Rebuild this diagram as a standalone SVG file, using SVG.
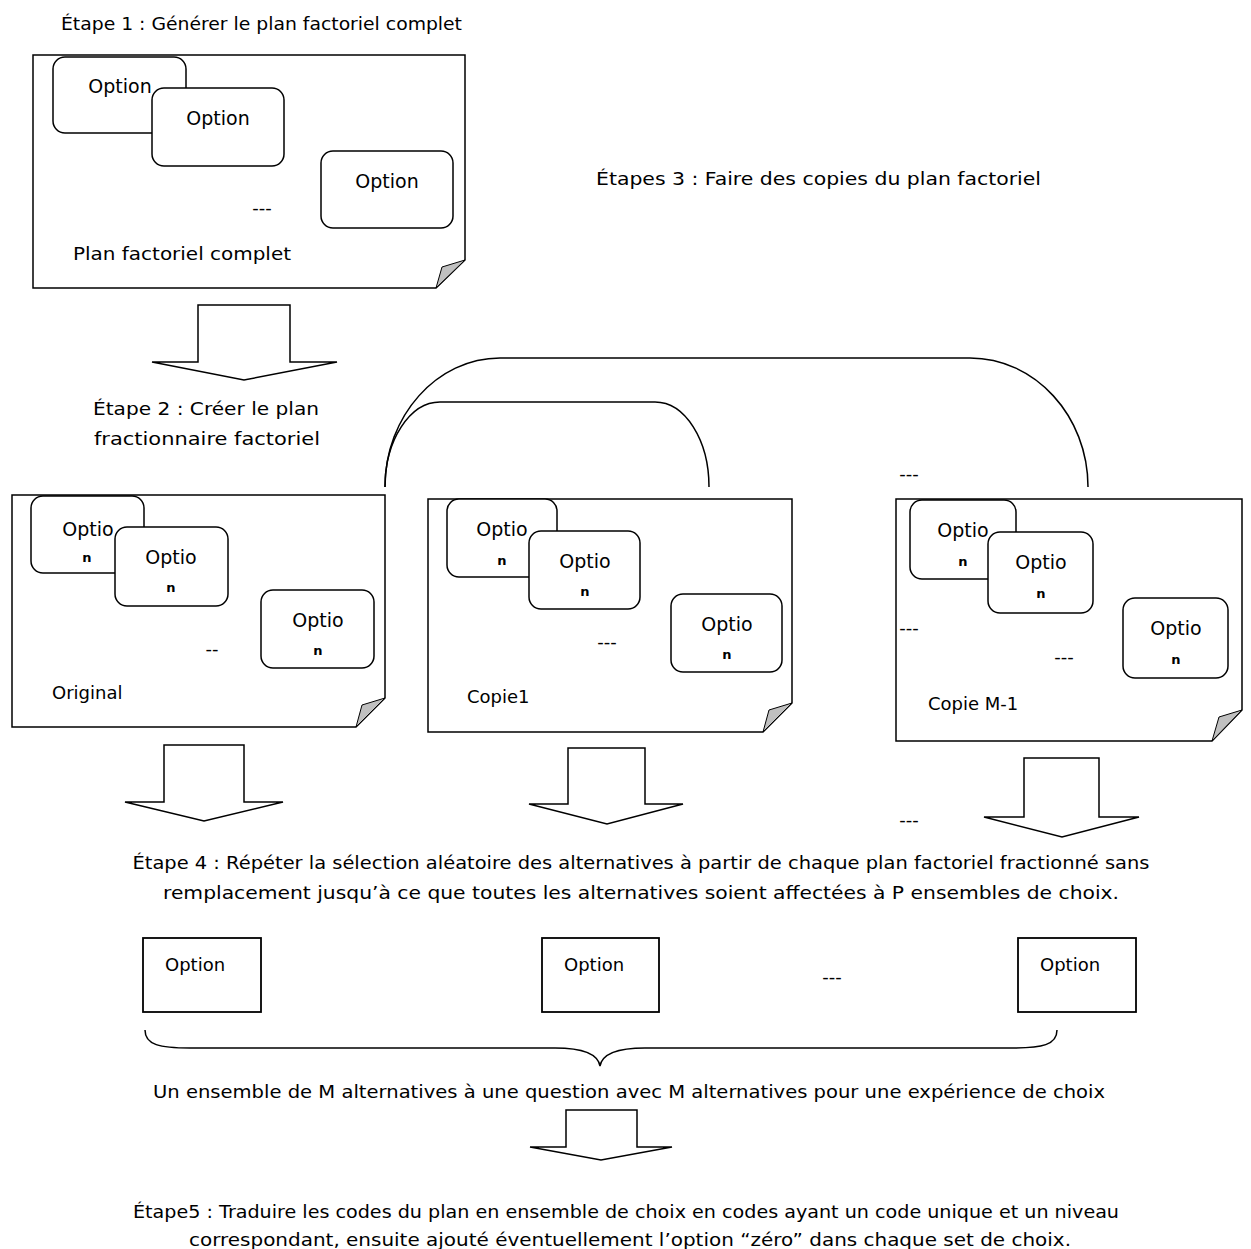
<svg xmlns="http://www.w3.org/2000/svg" width="1251" height="1249" viewBox="0 0 1251 1249">
<style>
.doc{fill:#fff;stroke:#000;stroke-width:1.5}
.fold{fill:#c0c0c0;stroke:#000;stroke-width:1}
.opt{fill:#fff;stroke:#000;stroke-width:1.5}
.sq{fill:#fff;stroke:#000;stroke-width:1.8}
.arrow{fill:#fff;stroke:#000;stroke-width:1.5;stroke-linejoin:miter}
.conn{fill:none;stroke:#000;stroke-width:1.5}
.t{font-family:"DejaVu Sans",sans-serif;font-size:18px;fill:#000}
.o{font-size:19px}
.m{text-anchor:middle}
.n{font-family:"DejaVu Sans",sans-serif;font-size:13px;font-weight:bold;fill:#000;text-anchor:middle}
</style>
<rect width="1251" height="1249" fill="#fff"/>

<text class="t" x="61" y="30" textLength="401" lengthAdjust="spacingAndGlyphs">Étape 1 : Générer le plan factoriel complet</text>
<text class="t" x="596" y="185" textLength="445" lengthAdjust="spacingAndGlyphs">Étapes 3 : Faire des copies du plan factoriel</text>

<g id="doc-complet">
<path class="doc" d="M33,55 H465 V260 L436,288 H33 Z"/>
<path class="fold" d="M465,260 L442,267 L436,288 Z"/>
<rect class="opt" x="53" y="57" width="133" height="76" rx="12"/>
<text class="t o m" x="120" y="93">Option</text>
<rect class="opt" x="152" y="88" width="132" height="78" rx="12"/>
<text class="t o m" x="218" y="125">Option</text>
<rect class="opt" x="321" y="151" width="132" height="77" rx="12"/>
<text class="t o m" x="387" y="188">Option</text>
<text class="t m" x="262" y="214">---</text>
<text class="t" x="73" y="260" textLength="218" lengthAdjust="spacingAndGlyphs">Plan factoriel complet</text>
</g>

<g id="arrow-1">
<polygon class="arrow" points="198,305 290,305 290,362 337,362 244,380 152,362 198,362"/>
</g>
<text class="t m" x="206" y="415" textLength="226" lengthAdjust="spacingAndGlyphs">Étape 2 : Créer le plan</text>
<text class="t m" x="207" y="445" textLength="226" lengthAdjust="spacingAndGlyphs">fractionnaire factoriel</text>

<g id="connectors">
<path class="conn" d="M385,487 C385,416 437,358 500,358 L970,358 C1035,358 1088,416 1088,487"/>
<path class="conn" d="M385,487 C385,440 410,402 440,402 L655,402 C685,402 709,440 709,487"/>
</g>

<g id="doc-original">
<path class="doc" d="M12,495 H385 V698 L356,727 H12 Z"/>
<path class="fold" d="M385,698 L362,705 L356,727 Z"/>
<rect class="opt" x="31" y="496" width="113" height="77" rx="12"/>
<text class="t o m" x="88" y="536">Optio</text>
<text class="n" x="87" y="562">n</text>
<rect class="opt" x="115" y="527" width="113" height="79" rx="12"/>
<text class="t o m" x="171" y="564">Optio</text>
<text class="n" x="171" y="592">n</text>
<rect class="opt" x="261" y="590" width="113" height="78" rx="12"/>
<text class="t o m" x="318" y="627">Optio</text>
<text class="n" x="318" y="655">n</text>
<text class="t m" x="212" y="655">--</text>
<text class="t" x="52" y="699">Original</text>
</g>

<g id="doc-copie1">
<path class="doc" d="M428,499 H792 V703 L763,732 H428 Z"/>
<path class="fold" d="M792,703 L769,710 L763,732 Z"/>
<rect class="opt" x="447" y="499" width="110" height="78" rx="12"/>
<text class="t o m" x="502" y="536">Optio</text>
<text class="n" x="502" y="565">n</text>
<rect class="opt" x="529" y="531" width="111" height="78" rx="12"/>
<text class="t o m" x="585" y="568">Optio</text>
<text class="n" x="585" y="596">n</text>
<rect class="opt" x="671" y="594" width="111" height="78" rx="12"/>
<text class="t o m" x="727" y="631">Optio</text>
<text class="n" x="727" y="659">n</text>
<text class="t m" x="607" y="648">---</text>
<text class="t" x="467" y="703">Copie1</text>
</g>

<g id="doc-copieM1">
<path class="doc" d="M896,499 H1242 V710 L1212,741 H896 Z"/>
<path class="fold" d="M1242,710 L1219,717 L1212,741 Z"/>
<rect class="opt" x="910" y="500" width="106" height="79" rx="12"/>
<text class="t o m" x="963" y="537">Optio</text>
<text class="n" x="963" y="566">n</text>
<rect class="opt" x="988" y="532" width="105" height="81" rx="12"/>
<text class="t o m" x="1041" y="569">Optio</text>
<text class="n" x="1041" y="598">n</text>
<rect class="opt" x="1123" y="598" width="105" height="80" rx="12"/>
<text class="t o m" x="1176" y="635">Optio</text>
<text class="n" x="1176" y="664">n</text>
<text class="t m" x="1064" y="663">---</text>
<text class="t" x="928" y="710">Copie M-1</text>
<text class="t m" x="909" y="634">---</text>
</g>
<text class="t m" x="909" y="480">---</text>
<text class="t m" x="909" y="826">---</text>

<g id="arrow-2a">
<polygon class="arrow" points="164,745 244,745 244,802 283,802 204,821 125,802 164,802"/>
</g>
<g id="arrow-2b">
<polygon class="arrow" points="568,748 645,748 645,804 683,804 607,824 529,804 568,804"/>
</g>
<g id="arrow-2c">
<polygon class="arrow" points="1024,758 1099,758 1099,817 1139,817 1062,837 984,817 1024,817"/>
</g>

<text class="t m" x="641" y="869" textLength="1017" lengthAdjust="spacingAndGlyphs">Étape 4 : Répéter la sélection aléatoire des alternatives à partir de chaque plan factoriel fractionné sans</text>
<text class="t m" x="641" y="899" textLength="956" lengthAdjust="spacingAndGlyphs">remplacement jusqu’à ce que toutes les alternatives soient affectées à P ensembles de choix.</text>

<g id="option-1">
<rect class="sq" x="143" y="938" width="118" height="74"/>
<text class="t" x="165" y="971">Option</text>
</g>
<g id="option-2">
<rect class="sq" x="542" y="938" width="117" height="74"/>
<text class="t" x="564" y="971">Option</text>
</g>
<g id="option-3">
<rect class="sq" x="1018" y="938" width="118" height="74"/>
<text class="t" x="1040" y="971">Option</text>
</g>
<text class="t m" x="832" y="983">---</text>

<g id="brace">
<path class="conn" d="M145,1030 C145,1045 160,1048 190,1048 L555,1048 C585,1048 598,1055 600,1066 C602,1055 615,1048 645,1048 L1012,1048 C1042,1048 1057,1045 1057,1030"/>
</g>

<text class="t m" x="629" y="1098" textLength="952" lengthAdjust="spacingAndGlyphs">Un ensemble de M alternatives à une question avec M alternatives pour une expérience de choix</text>

<g id="arrow-3">
<polygon class="arrow" points="566,1110 637,1110 637,1147 672,1147 601,1160 530,1147 566,1147"/>
</g>

<text class="t m" x="626" y="1218" textLength="986" lengthAdjust="spacingAndGlyphs">Étape5 : Traduire les codes du plan en ensemble de choix en codes ayant un code unique et un niveau</text>
<text class="t m" x="630" y="1246" textLength="882" lengthAdjust="spacingAndGlyphs">correspondant, ensuite ajouté éventuellement l’option “zéro” dans chaque set de choix.</text>
</svg>
